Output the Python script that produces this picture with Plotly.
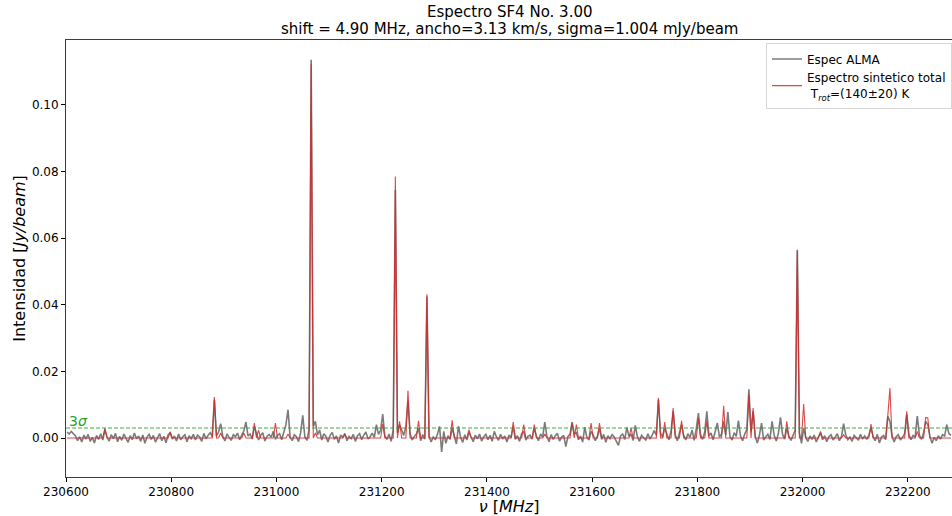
import plotly.graph_objects as go

# Frequency grid of the observed channels (MHz)
freq_start = 230602.0
freq_step = 4.0

# Observed ALMA spectrum, mJy/beam, one value per channel (20 channels per row)
alma_mjy = [
    1.8, 1.2, 2.0, 1.4, 0.6, -0.8, 0.4, -1.2, 0.9, -0.3, 1.1, -1.0, 0.2, -1.5, 0.8, -0.4, 1.3, -0.6, 2.5, 0.3,
    -0.9, 1.0, -0.2, 1.4, -1.1, 0.5, -0.7, 1.2, 0.1, -1.3, 0.7, -0.5, 1.5, -0.2, 0.6, -1.0, 0.9, -1.6, 0.3, 1.1,
    -0.4, 0.8, -1.2, 0.2, 1.3, -0.8, 0.5, -1.4, 0.9, 1.5, -0.3, 0.6, -0.9, 1.2, -0.5, 0.4, 1.0, -1.1, 0.7, -0.2,
    1.1, -0.6, 0.9, 0.3, -1.0, 1.4, -0.2, 0.8, 1.6, 0.4, 11.5, 0.6, 1.8, 4.3, 0.5, -0.9, 1.2, 0.2, -0.7, 1.0,
    0.4, 1.5, -0.5, 0.9, 2.1, 4.8, 0.6, 1.2, -0.3, 3.5, 1.4, -0.6, 0.8, 1.6, -0.9, 0.5, 1.1, 0.2, 2.0, -0.4,
    0.8, 1.3, -0.5, 2.2, 4.0, 8.5, 0.2, -0.8, 1.0, 0.4, -1.1, 1.6, 6.8, 0.3, -0.7, 2.6, 113.6, 3.5, 5.0, 0.9,
    2.4, -0.6, 1.3, 0.5, -1.2, 0.8, 1.7, -0.4, 0.6, -1.5, 0.9, 0.2, 1.4, -0.8, 0.5, -0.2, 1.1, -1.0, 0.7, 1.3,
    -0.5, 0.9, 1.8, -0.3, 0.4, 1.5, 0.2, 4.0, 1.1, 2.3, 7.2, 0.6, -0.4, 1.2, -1.0, 2.5, 74.5, 1.6, 4.0, 2.4,
    0.8, 3.5, 11.0, 1.4, -0.6, 0.5, 1.2, 3.0, -0.8, 1.0, -0.3, 42.5, 0.6, -1.2, 0.3, -0.5, 1.1, 3.5, -4.2, 2.0,
    -1.6, 0.7, -0.4, 3.0, 0.5, -1.8, 3.6, 0.2, -1.3, 1.0, -0.6, 1.8, 0.3, -1.1, 0.9, -0.2, 1.2, -0.9, 0.4, 1.1,
    -0.5, 0.8, -1.0, 2.0, 0.4, -0.7, 1.1, -0.3, 0.6, -1.2, 0.9, 0.1, 3.5, -0.4, 0.7, -1.0, 1.3, 2.0, -0.6, 0.5,
    0.9, -0.3, 3.0, 0.6, -0.8, 1.2, 0.3, 4.8, 0.5, -1.1, 1.0, -0.4, 0.7, 1.4, -0.9, 0.2, 0.8, -2.6, 0.4, 1.2,
    4.8, 1.3, 1.6, -0.5, 0.6, -1.2, 3.3, 0.2, -0.6, 2.0, 0.9, -0.8, 0.5, 3.0, -0.4, 1.1, -1.3, 0.7, -0.2, 1.0,
    0.3, -0.9, -2.2, 0.6, 1.2, -0.4, 3.2, 0.5, 1.1, -0.7, 3.8, 0.4, -1.0, 0.8, 0.2, -0.6, 1.3, -0.3, 0.9, 2.2,
    0.9, 11.5, 1.5, 0.2, 3.0, 1.4, -0.5, 2.2, 8.0, 1.0, -0.8, 1.6, 4.0, 0.8, -0.6, 1.3, 0.2, 2.4, -0.7, 2.8,
    7.5, 1.0, -0.4, 1.8, 8.0, 0.6, 1.5, -0.5, 2.0, 4.5, 0.3, 1.2, 5.0, 0.8, 7.8, 0.4, -0.6, 1.6, 0.5, 5.2,
    0.6, -0.8, 1.2, 2.5, 14.6, 2.0, 8.0, 0.4, -1.5, 0.9, 4.5, -0.6, 0.3, 1.1, -0.4, 5.0, 0.8, -0.9, 1.4, 6.2,
    1.0, -0.3, 3.0, 0.5, -0.7, 1.2, 2.4, 56.5, 1.5, -1.6, 3.0, 0.2, -1.0, 0.6, -0.4, 0.9, -1.2, 0.3, 1.5, -0.5,
    0.7, -1.1, 0.4, 1.0, -0.6, 0.2, 1.3, -0.8, 0.5, 4.3, 1.0, -0.5, 0.3, -1.0, 0.8, 0.1, -0.7, 1.1, -0.3, 0.6,
    -0.4, 0.9, 3.0, 0.5, -0.8, 1.1, -1.5, 0.3, 0.8, -0.5, 6.5, 5.0, 0.6, -1.2, 0.4, 1.0, -0.6, 0.2, 1.3, 7.0,
    1.2, -0.5, 0.8, 0.3, 6.6, 0.9, -0.4, 1.5, 5.0, 4.0, 0.5, -1.6, 0.2, -0.8, 0.7, -0.3, 1.0, 0.6, 4.0, 1.4,
    0.8,
]

# Synthetic model: line centres (MHz) and peak intensities (mJy/beam); zero elsewhere
synth_freq = [
    230674, 230798, 230882, 230894, 230938, 230958, 230966, 230998, 231022, 231066,
    231074, 231130, 231202, 231226, 231234, 231250, 231270, 231286, 231334, 231366,
    231450, 231470, 231490, 231510, 231562, 231570, 231598, 231614, 231674, 231726,
    231738, 231754, 231770, 231802, 231818, 231850, 231898, 231906, 231970, 231990,
    232002, 232034, 232078, 232130, 232162, 232166, 232198, 232218, 232234, 232238,
]
synth_peak = [
    3.0, 1.8, 12.3, 1.5, 1.5, 4.5, 2.4, 4.5, 1.2, 112.2,
    1.5, 1.0, 4.2, 78.5, 5.0, 14.2, 5.2, 43.2, 5.3, 2.5,
    4.8, 4.0, 4.0, 1.2, 4.5, 4.0, 4.5, 4.5, 3.0, 12.0,
    4.8, 9.0, 5.2, 6.0, 5.0, 9.7, 13.0, 9.0, 5.0, 56.2,
    10.2, 2.0, 1.0, 4.2, 6.8, 15.0, 8.0, 2.0, 6.2, 6.0,
]

sigma_mjy = 1.004
x_ticks = [230600, 230800, 231000, 231200, 231400, 231600, 231800, 232000, 232200]
y_ticks = [0.00, 0.02, 0.04, 0.06, 0.08, 0.10]

title_lines = [
    "Espectro SF4 No. 3.00",
    "shift = 4.90 MHz, ancho=3.13 km/s, sigma=1.004 mJy/beam",
]

freq = [freq_start + freq_step * i for i in range(len(alma_mjy))]
alma = [v / 1000.0 for v in alma_mjy]

synth = [0.0] * len(freq)
for f, p in zip(synth_freq, synth_peak):
    synth[int(round((f - freq_start) / freq_step))] = p / 1000.0

three_sigma = 3 * sigma_mjy / 1000.0

font_family = "DejaVu Sans"

fig = go.Figure()
fig.add_trace(go.Scatter(
    x=freq, y=alma, mode="lines", name="Espec ALMA",
    line=dict(color="rgba(100,100,100,0.85)", width=1.6),
))
fig.add_trace(go.Scatter(
    x=freq, y=synth, mode="lines",
    name="Espectro sintetico total<br> T<sub><i>rot</i></sub>=(140±20) K",
    line=dict(color="rgba(214,39,40,0.85)", width=1.1),
))

# 3 sigma threshold
fig.add_shape(type="line", xref="paper", yref="y", x0=0, x1=1,
              y0=three_sigma, y1=three_sigma,
              line=dict(color="rgba(44,160,44,0.9)", width=1, dash="4px,2px"))
fig.add_annotation(xref="x", yref="y", x=230601, y=three_sigma,
                   text="3<i>σ</i>", showarrow=False, xanchor="left", yanchor="bottom",
                   yshift=-3, font=dict(color="rgb(44,160,44)", size=14, family=font_family))

# Two-line title, centred over the plotting area
for k, line in enumerate(title_lines):
    fig.add_annotation(xref="paper", yref="paper", x=0.5, y=1, yanchor="bottom",
                       yshift=18 - 17 * k, text=line, showarrow=False, borderpad=0,
                       font=dict(size=15, family=font_family, color="black"))

fig.update_layout(
    width=952, height=516,
    margin=dict(l=66, r=0, t=40, b=39),
    paper_bgcolor="white", plot_bgcolor="white",
    font=dict(family=font_family, size=12, color="black"),
    showlegend=True,
    legend=dict(
        x=1, y=0.992, xanchor="right", yanchor="top",
        bgcolor="white", bordercolor="rgb(215,215,215)", borderwidth=1,
        font=dict(size=12, family=font_family), tracegroupgap=2,
    ),
    xaxis=dict(
        range=[230600, 232284], tickvals=x_ticks, tickformat="d",
        ticks="outside", ticklen=4, tickwidth=1, tickcolor="black",
        showline=True, linecolor="rgb(60,60,60)", linewidth=1, mirror=True,
        showgrid=False, zeroline=False,
        title=dict(text="<i>ν</i> [<i>MHz</i>]", font=dict(size=16), standoff=4),
    ),
    yaxis=dict(
        range=[-0.0117, 0.1195], tickvals=y_ticks, tickformat=".2f",
        ticks="outside", ticklen=4, tickwidth=1, tickcolor="black",
        showline=True, linecolor="rgb(60,60,60)", linewidth=1, mirror=True,
        showgrid=False, zeroline=False,
        title=dict(text="Intensidad [<i>Jy/beam</i>]", font=dict(size=16), standoff=2),
    ),
)

fig.write_html("out.html")
